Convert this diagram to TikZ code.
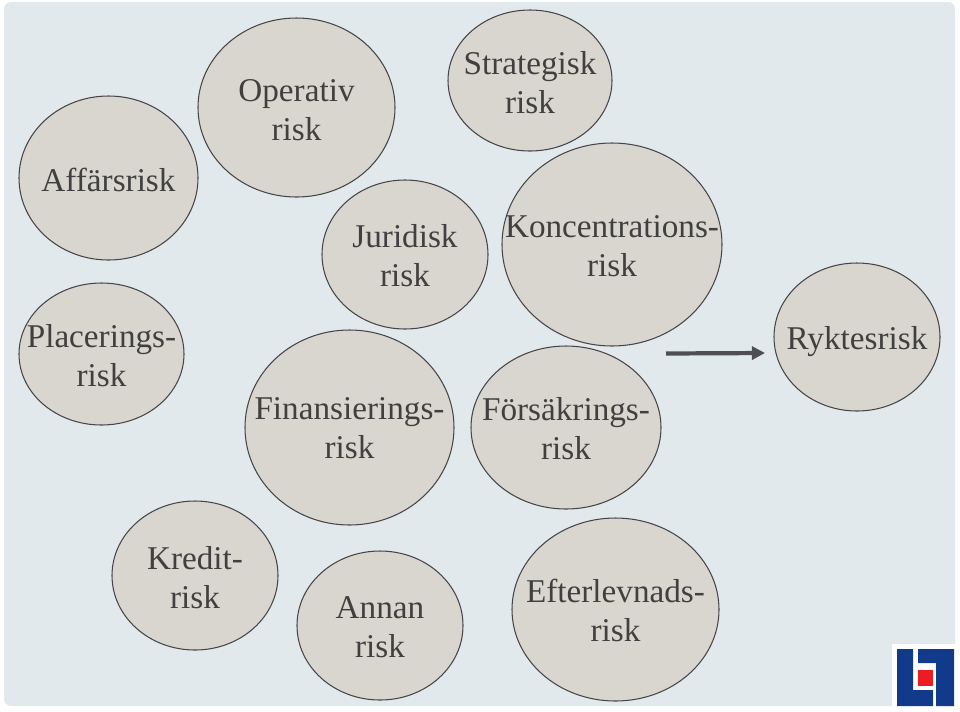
\documentclass[tikz,border=0pt]{standalone}
\usepackage{fontspec}
\setmainfont{Liberation Serif}
\usepackage{tikz}
\usetikzlibrary{arrows.meta, shapes.geometric}
\usepackage{xcolor}
\definecolor{slidebg}{RGB}{226, 233, 237}
\definecolor{bubblefill}{RGB}{217, 214, 208}
\definecolor{bubbleline}{RGB}{70, 70, 70}
\definecolor{risktextcol}{RGB}{64, 64, 64}
\definecolor{arrowcol}{RGB}{77, 79, 85}
\definecolor{logoblue}{RGB}{18, 58, 138}
\definecolor{logored}{RGB}{235, 28, 36}

\begin{document}
\begin{tikzpicture}[x=0.02cm, y=-0.02cm, >=Stealth,
  bubble/.style 2 args={ellipse, draw=bubbleline, fill=bubblefill, line width=0.6pt,
    inner sep=0pt, minimum width=#1*0.02cm, minimum height=#2*0.02cm},
  risktext/.style={align=center, text=risktextcol, inner sep=0pt, yshift=-0.04cm,
    font=\fontsize{18.9}{22.2}\selectfont}]
  \useasboundingbox (0,0) rectangle (960,711);

  % Slide background
  \fill[white] (0,0) rectangle (960,711);
  \fill[slidebg, rounded corners=4pt] (4,2) rectangle (955,706);

  % Risk bubbles
  \node[bubble={179}{164}] (affars) at (108.5,178) {};
  \node[bubble={197}{179}] (operativ) at (296.5,107.5) {};
  \node[bubble={164}{141}] (strategisk) at (530,80.5) {};
  \node[bubble={166}{149}] (juridisk) at (405,254.5) {};
  \node[bubble={220}{203}] (koncentration) at (612,244.5) {};
  \node[bubble={165}{142}] (placering) at (101.5,354) {};
  \node[bubble={166}{148}] (rykte) at (857,337) {};
  \node[bubble={209}{195}] (finansiering) at (349.5,427.5) {};
  \node[bubble={190}{163}] (forsakring) at (566,427.5) {};
  \node[bubble={166}{149}] (kredit) at (195,575.5) {};
  \node[bubble={166}{149}] (annan) at (380,625.5) {};
  \node[bubble={207}{183}] (efterlevnad) at (615.5,609.5) {};

  % Labels, wider than the bubbles in places
  \node[risktext] (affarsText) at (affars) {Affärsrisk};
  \node[risktext, yshift=-0.02cm] (operativText) at (operativ) {Operativ\\risk};
  \node[risktext] (strategiskText) at (strategisk) {Strategisk\\risk};
  \node[risktext, yshift=0.02cm] (juridiskText) at (juridisk) {Juridisk\\risk};
  \node[risktext] (koncentrationText) at (koncentration) {Koncentrations-\\risk};
  \node[risktext] (placeringText) at (placering) {Placerings-\\risk};
  \node[risktext, yshift=-0.06cm] (rykteText) at (rykte) {Ryktesrisk};
  \node[risktext, yshift=0.02cm] (finansieringText) at (finansiering) {Finansierings-\\risk};
  \node[risktext, yshift=0.02cm] (forsakringText) at (forsakring) {Försäkrings-\\risk};
  \node[risktext] (kreditText) at (kredit) {Kredit-\\risk};
  \node[risktext] (annanText) at (annan) {Annan\\risk};
  \node[risktext, yshift=0.02cm] (efterlevnadText) at (efterlevnad) {Efterlevnads-\\risk};

  % Arrow towards the reputation bubble
  \coordinate (arrowStart) at (666,353.5);
  \coordinate (arrowEnd) at (765,353);
  \draw[-{Stealth[length=7.5pt, width=7.5pt, inset=0pt]}, line width=2.4pt, arrowcol] (arrowStart) -- (arrowEnd);

  % Logo
  \fill[white] (892,644) rectangle (960,711);
  \fill[logoblue] (897,649) -- (913,649) -- (913,690) -- (933,690) -- (933,706) -- (897,706) -- cycle;
  \fill[logoblue] (918,649) -- (954,649) -- (954,706) -- (936,706) -- (936,663) -- (918,663) -- cycle;
  \fill[logored] (918,670) rectangle (933,686);
\end{tikzpicture}
\end{document}
